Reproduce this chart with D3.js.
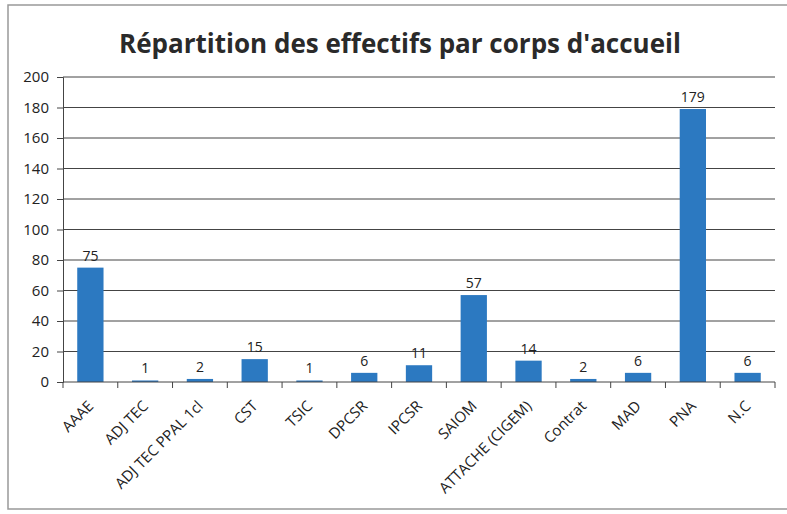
<!doctype html>
<html>
<head>
<meta charset="utf-8"/>
<title>Répartition des effectifs par corps d'accueil</title>
<script src="https://cdn.jsdelivr.net/npm/d3@7"></script>
<style>
 body { margin:0; background:#fff; }
 text { font-family: "Open Sans", sans-serif; }
</style>
</head>
<body>
<script>
// donnees
var corps = ["AAAE","ADJ TEC","ADJ TEC PPAL 1cl","CST","TSIC","DPCSR","IPCSR","SAIOM","ATTACHE (CIGEM)","Contrat","MAD","PNA","N.C"];
var effectifs = [75,1,2,15,1,6,11,57,14,2,6,179,6];
var graduations = [0,20,40,60,80,100,120,140,160,180,200];

var W = 787, H = 514;
var svg = d3.select("body").append("svg")
    .attr("width", W).attr("height", H);

// cadre du graphique
svg.append("rect")
    .attr("x", 8).attr("y", 5)
    .attr("width", W + 10).attr("height", H - 10)
    .attr("fill", "#fff").attr("stroke", "#999").attr("stroke-width", 1.5);

var x = d3.scaleBand().domain(corps).range([63, 775]).paddingInner(0.52).paddingOuter(0.26);
var y = d3.scaleLinear().domain([0, 200]).range([382, 77]);

svg.append("text")
    .attr("x", 400).attr("y", 53)
    .attr("text-anchor", "middle")
    .attr("font-size", 26).attr("font-weight", "bold")
    .attr("fill", "#2a2a2a")
    .text("Répartition des effectifs par corps d'accueil");

// lignes de grille
svg.append("g").selectAll("line")
    .data(graduations.slice(1))
    .enter().append("line")
    .attr("x1", 63).attr("x2", 775)
    .attr("y1", function(d){ return y(d); }).attr("y2", function(d){ return y(d); })
    .attr("stroke", "#444").attr("stroke-width", 1);

// axe y
var axeY = svg.append("g").attr("transform", "translate(63,0)")
    .call(d3.axisLeft(y).tickValues(graduations).tickSize(6).tickPadding(8));
axeY.select(".domain").attr("stroke", "#444");
axeY.selectAll(".tick line").attr("stroke", "#444");
axeY.selectAll("text").attr("font-size", 15).attr("fill", "#222").attr("font-family", "Open Sans");

// barres
svg.append("g").selectAll("rect")
    .data(effectifs)
    .enter().append("rect")
    .attr("x", function(d, i){ return x(corps[i]); })
    .attr("width", x.bandwidth())
    .attr("y", function(d){ return y(d); })
    .attr("height", function(d){ return y(0) - y(d); })
    .attr("fill", "#2c79c1");

// etiquettes de valeurs
svg.append("g").selectAll("text")
    .data(effectifs)
    .enter().append("text")
    .attr("x", function(d, i){ return x(corps[i]) + x.bandwidth() / 2; })
    .attr("y", function(d){ return y(d) - 7; })
    .attr("text-anchor", "middle")
    .attr("font-size", 14).attr("fill", "#222")
    .text(function(d){ return d; });

// axe x
var pas = x.step();
var axeX = svg.append("g").attr("transform", "translate(0," + y(0) + ")");
axeX.append("line").attr("x1", 63).attr("x2", 775).attr("stroke", "#444");
axeX.selectAll(".tk").data(d3.range(corps.length + 1)).enter().append("line")
    .attr("x1", function(i){ return 63 + i * pas; }).attr("x2", function(i){ return 63 + i * pas; })
    .attr("y1", 0).attr("y2", 6).attr("stroke", "#444");
axeX.selectAll(".lab").data(corps).enter().append("text")
    .attr("transform", function(d){ return "translate(" + (x(d) + x.bandwidth() / 2 + 4) + ",25) rotate(-45)"; })
    .attr("text-anchor", "end")
    .attr("font-size", 15).attr("fill", "#222")
    .text(function(d){ return d; });
</script>
</body>
</html>
